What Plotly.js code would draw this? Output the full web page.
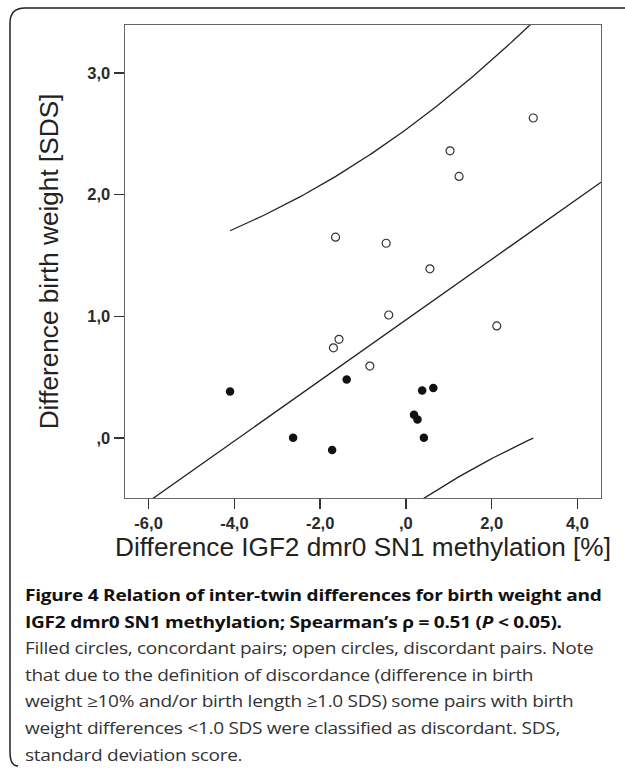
<!DOCTYPE html>
<html>
<head>
<meta charset="utf-8">
<script src="https://cdn.plot.ly/plotly-3.0.1.min.js"></script>
<style>
  html, body { margin: 0; padding: 0; background: #fff; }
  #wrap { position: relative; width: 625px; height: 771px; overflow: hidden; }
  #chart { position: absolute; left: 0; top: 0; width: 625px; height: 575px; }
  #frame { position: absolute; left: 0; top: 0; }
  #caption { position: absolute; left: 25px; top: 582px; font-family: "Open Sans", "Noto Sans", sans-serif;
             font-size: 16px; line-height: 26.6px; color: #333; white-space: nowrap; letter-spacing: -0.25px;
             transform: scaleX(1.19); transform-origin: 0 0; }
  #caption b { color: #111; font-weight: 700; letter-spacing: -0.2px; }
</style>
</head>
<body>
<div id="wrap">
  <div id="chart"></div>
  <svg id="frame" width="625" height="771">
    <path d="M 625 8 L 25 8 Q 10 8 10 23 L 10 752 Q 10 766 18 766" fill="none" stroke="#222" stroke-width="1.5"/>
  </svg>
  <div id="caption">
    <b>Figure 4 Relation of inter-twin differences for birth weight and</b><br>
    <b>IGF2 dmr0 SN1 methylation; Spearman’s ρ = 0.51 (<i>P</i> &lt; 0.05).</b><br>
    Filled circles, concordant pairs; open circles, discordant pairs. Note<br>
    that due to the definition of discordance (difference in birth<br>
    weight ≥10% and/or birth length ≥1.0 SDS) some pairs with birth<br>
    weight differences &lt;1.0 SDS were classified as discordant. SDS,<br>
    standard deviation score.
  </div>
</div>
<script>
// ---- Data ----
// Discordant pairs (open circles)
const discordantX = [2.97, 1.03, 1.24, -1.64, -0.46, 0.56, -0.40, 2.12, -1.56, -1.69, -0.84];
const discordantY = [2.63, 2.36, 2.15, 1.65, 1.60, 1.39, 1.01, 0.92, 0.81, 0.74, 0.59];
// Concordant pairs (filled circles)
const concordantX = [-4.10, -2.63, -1.72, -1.38, 0.19, 0.27, 0.38, 0.64, 0.42];
const concordantY = [0.38, 0.00, -0.10, 0.48, 0.19, 0.15, 0.39, 0.41, 0.00];

const xTickVals = [-6, -4, -2, 0, 2, 4];
const xTickText = ['-6,0', '-4,0', '-2,0', ',0', '2,0', '4,0'];
const yTickVals = [0, 1, 2, 3];
const yTickText = [',0', '1,0', '2,0', '3,0'];

const xRange = [-6.55, 4.55];
const yRange = [-0.495, 3.395];
const T975_DF = 2.1009; // Student t, 0.975 quantile, df = n - 2 = 18

// ---- Linear fit and 95% individual prediction interval ----
const allX = discordantX.concat(concordantX);
const allY = discordantY.concat(concordantY);
const n = allX.length;
const mx = allX.reduce((a, b) => a + b, 0) / n;
const my = allY.reduce((a, b) => a + b, 0) / n;
let sxx = 0, sxy = 0;
for (let i = 0; i < n; i++) { sxx += (allX[i] - mx) ** 2; sxy += (allX[i] - mx) * (allY[i] - my); }
const slope = sxy / sxx;
const intercept = my - slope * mx;
let sse = 0;
for (let i = 0; i < n; i++) { sse += (allY[i] - (intercept + slope * allX[i])) ** 2; }
const s = Math.sqrt(sse / (n - 2));

const fitX = xRange.slice();
const fitY = fitX.map(x => intercept + slope * x);

const minX = Math.min(...allX), maxX = Math.max(...allX);
const bandX = [], upperY = [], lowerY = [];
const steps = 120;
for (let k = 0; k <= steps; k++) {
  const x = minX + (maxX - minX) * k / steps;
  const half = T975_DF * s * Math.sqrt(1 + 1 / n + (x - mx) ** 2 / sxx);
  const yhat = intercept + slope * x;
  bandX.push(x); upperY.push(yhat + half); lowerY.push(yhat - half);
}

const lineStyle = { color: '#222', width: 1.3 };
const traces = [
  { x: fitX, y: fitY, mode: 'lines', line: lineStyle, hoverinfo: 'skip', showlegend: false },
  { x: bandX, y: upperY, mode: 'lines', line: lineStyle, hoverinfo: 'skip', showlegend: false },
  { x: bandX, y: lowerY, mode: 'lines', line: lineStyle, hoverinfo: 'skip', showlegend: false },
  { x: discordantX, y: discordantY, mode: 'markers', name: 'Discordant pairs', showlegend: false,
    marker: { symbol: 'circle-open', size: 8, color: '#333', line: { width: 1.2 } } },
  { x: concordantX, y: concordantY, mode: 'markers', name: 'Concordant pairs', showlegend: false,
    marker: { symbol: 'circle', size: 8.5, color: '#111', line: { width: 0 } } }
];

const tickFont = { family: '"Liberation Sans", Arial, sans-serif', size: 16.5, weight: 'bold', color: '#2a2a2a' };
const titleFont = { family: '"Liberation Sans", Arial, sans-serif', size: 26.2, color: '#222' };

const layout = {
  width: 625, height: 575,
  margin: { l: 125, r: 24, t: 25, b: 77, pad: 0 },
  paper_bgcolor: 'rgba(0,0,0,0)', plot_bgcolor: '#fff',
  showlegend: false,
  xaxis: {
    range: xRange, autorange: false, zeroline: false, showgrid: false,
    showline: true, mirror: true, linecolor: '#666', linewidth: 1.4,
    ticks: 'outside', ticklen: 10, tickwidth: 1.4, tickcolor: '#333',
    tickvals: xTickVals, ticktext: xTickText, tickfont: tickFont,
    title: { text: 'Difference IGF2 dmr0 SN1 methylation [%]', font: titleFont, standoff: 5 },
    automargin: false
  },
  yaxis: {
    range: yRange, autorange: false, zeroline: false, showgrid: false,
    showline: true, mirror: true, linecolor: '#666', linewidth: 1.4,
    ticks: 'outside', ticklen: 10, tickwidth: 1.4, tickcolor: '#333',
    tickvals: yTickVals, ticktext: yTickText, tickfont: tickFont,
    title: { text: 'Difference birth weight [SDS]', font: titleFont, standoff: 21 },
    automargin: false
  }
};

Plotly.newPlot('chart', traces, layout, { displayModeBar: false, staticPlot: true });
</script>
</body>
</html>
